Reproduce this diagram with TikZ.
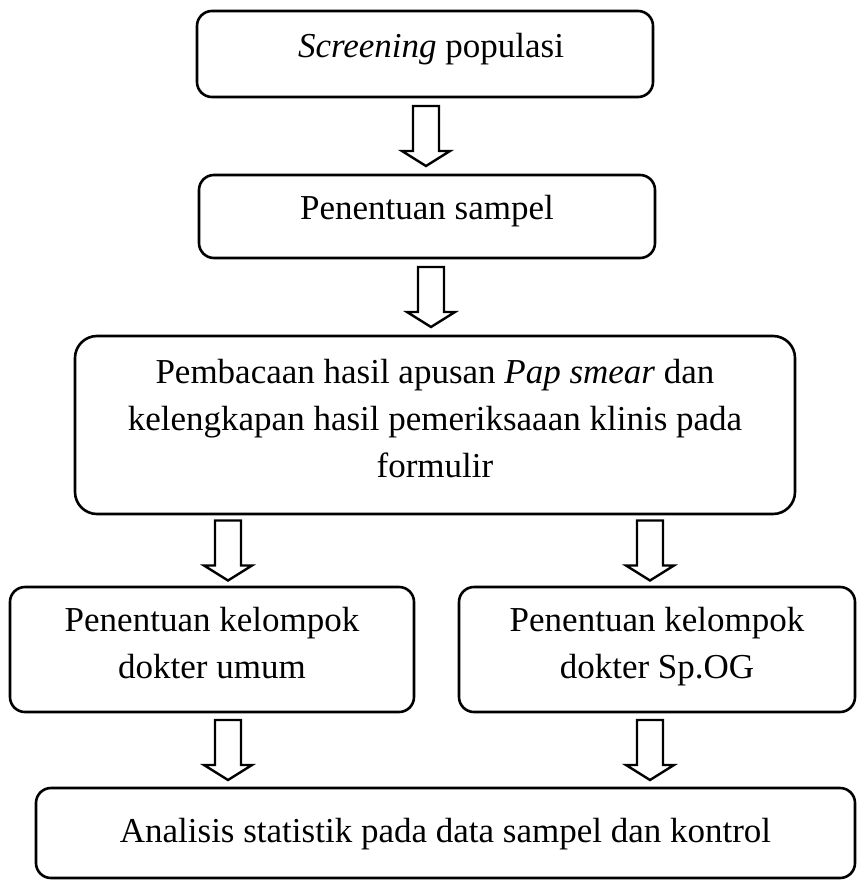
\documentclass[tikz,border=0pt]{standalone}
\usepackage{fontspec}
\setmainfont{Liberation Serif}
\usetikzlibrary{calc}
\begin{document}
\begin{tikzpicture}[x=1pt,y=-1pt,
  box/.style={draw, line width=2.6pt, rounded corners=15pt, align=center, inner sep=0pt,
    font=\fontsize{35}{47}\selectfont,
    execute at begin node={\strut}, execute at end node={\strut}},
  blockdown/.pic={\draw[line width=2.4pt, line join=miter] (-13,-30) -- (-13,15) -- (-24,15) -- (0,30) -- (24,15) -- (13,15) -- (13,-30) -- cycle;}
]
\useasboundingbox (0,0) rectangle (858,880);
\node[box, minimum width=456pt, minimum height=86pt] (b1) at (425,54) {\raisebox{6pt}{\hspace*{12pt}\textit{Screening} populasi}};
\node[box, minimum width=456pt, minimum height=83pt] (b2) at (427,216.5) {\raisebox{6pt}{Penentuan sampel}};
\node[box, rounded corners=22pt, minimum width=720pt, minimum height=178pt] (b3) at (435,425) {Pembacaan hasil apusan \textit{Pap smear} dan\\kelengkapan hasil pemeriksaaan klinis pada\\formulir};
\node[box, minimum width=404pt, minimum height=125pt] (b4) at (212,649.5) {Penentuan kelompok\\dokter umum};
\node[box, minimum width=396pt, minimum height=125pt] (b5) at (657,649.5) {Penentuan kelompok\\dokter Sp.OG};
\node[box, minimum width=819pt, minimum height=90pt] (b6) at (445.5,833) {Analisis statistik pada data sampel dan kontrol};
\coordinate (ax) at (228,0);
\coordinate (bx) at (650,0);
\pic at ($(b1.south)!0.5!(b2.north)$) {blockdown};
\pic at ($(b2.south)!0.5!(b3.north)$) {blockdown};
\pic at ($(b3.south -| ax)!0.5!(b4.north -| ax)$) {blockdown};
\pic at ($(b3.south -| bx)!0.5!(b5.north -| bx)$) {blockdown};
\pic at ($(b4.south -| ax)!0.5!(b6.north -| ax)$) {blockdown};
\pic at ($(b5.south -| bx)!0.5!(b6.north -| bx)$) {blockdown};
\end{tikzpicture}
\end{document}
